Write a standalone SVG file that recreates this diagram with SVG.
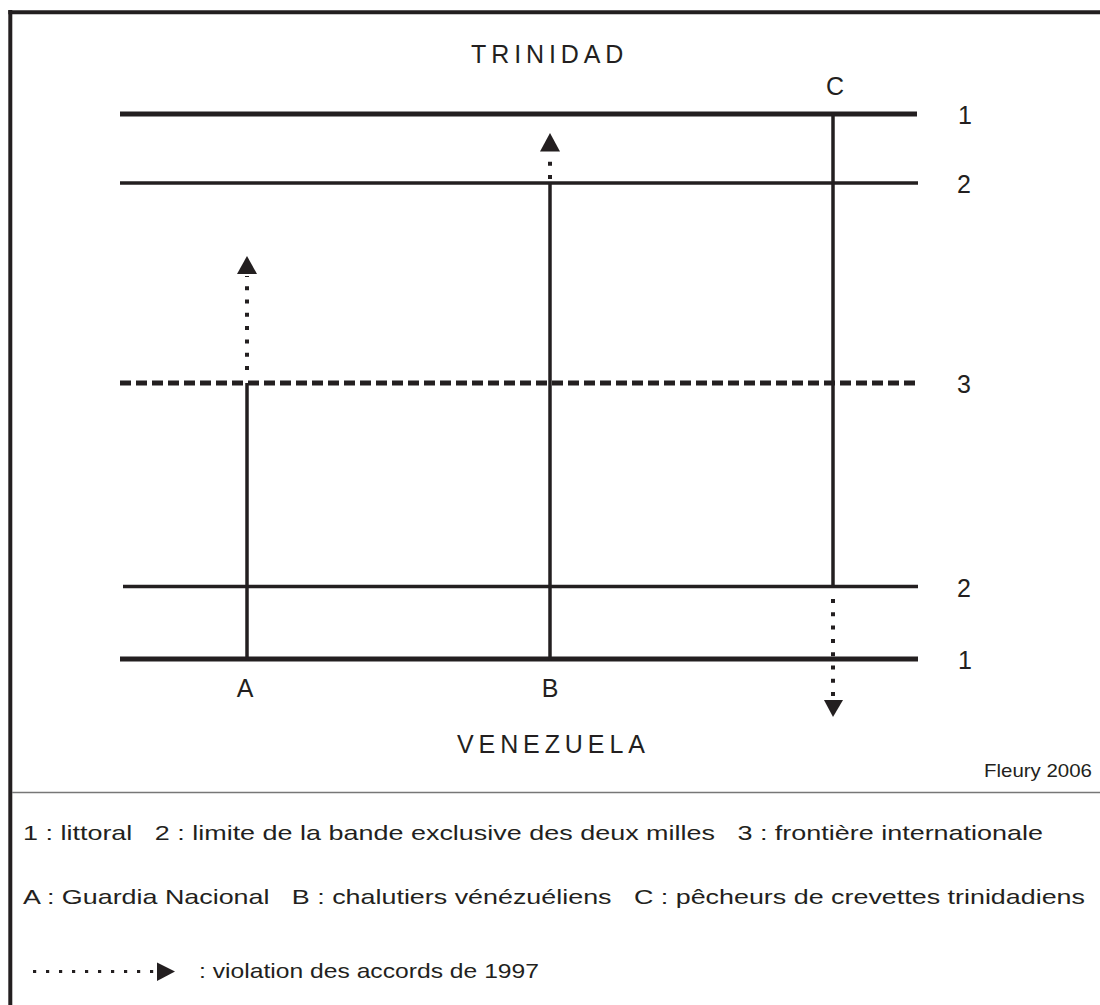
<svg xmlns="http://www.w3.org/2000/svg" width="1100" height="1005" viewBox="0 0 1100 1005">
<style>
text{font-family:"Liberation Sans",Arial,sans-serif;fill:#231f20}
.big{font-size:25px}
.leg{font-size:21px}
.line{stroke:#231f20;fill:none}
.thick{stroke-width:5}
.thin{stroke-width:3.5}
.vert{stroke-width:3.5}
.dot{stroke:#231f20;stroke-width:4;stroke-dasharray:4 9.3;fill:none}
.head{fill:#231f20}
</style>
<rect x="0" y="0" width="1100" height="1005" fill="#ffffff"/>
<g id="frame">
<line class="line" x1="10.3" y1="10" x2="10.3" y2="1005" stroke-width="4"/>
<line class="line" x1="8.3" y1="12.2" x2="1100" y2="12.2" stroke-width="4"/>
<line x1="12" y1="792.5" x2="1100" y2="792.5" stroke="#777777" stroke-width="1.5"/>
</g>
<g id="limits">
<g id="line1-top"><line class="line thick" x1="120" y1="114" x2="917" y2="114"/><text class="big" x="965" y="124" text-anchor="middle">1</text></g>
<g id="line2-top"><line class="line thin" x1="120" y1="183" x2="918" y2="183"/><text class="big" x="964" y="193" text-anchor="middle">2</text></g>
<g id="line3"><line class="line" stroke-width="5" stroke-dasharray="11 5" x1="120" y1="383" x2="918" y2="383"/><text class="big" x="964" y="393" text-anchor="middle">3</text></g>
<g id="line2-bottom"><line class="line thin" x1="123" y1="586.5" x2="918" y2="586.5"/><text class="big" x="964" y="597" text-anchor="middle">2</text></g>
<g id="line1-bottom"><line class="line thick" x1="120" y1="659" x2="918" y2="659"/><text class="big" x="965" y="669" text-anchor="middle">1</text></g>
</g>
<g id="titles">
<text class="big" x="471" y="62.7" letter-spacing="4.9">TRINIDAD</text>
<text class="big" x="457" y="752.7" letter-spacing="4.9">VENEZUELA</text>
<text x="984" y="777" font-size="19" textLength="108" lengthAdjust="spacingAndGlyphs">Fleury 2006</text>
</g>
<g id="connectors">
<g id="A">
<line class="line vert" x1="247" y1="661" x2="247" y2="383"/>
<line class="dot" x1="247" y1="370" x2="247" y2="276"/>
<polygon class="head" points="247,256 237,274 257,274"/>
<text class="big" x="245" y="697" text-anchor="middle">A</text>
</g>
<g id="B">
<line class="line vert" x1="550" y1="661" x2="550" y2="183"/>
<line class="dot" x1="550" y1="179" x2="550" y2="153" stroke-dasharray="3.5 6.2"/>
<polygon class="head" points="550,133 540,151.5 560,151.5"/>
<text class="big" x="550" y="697" text-anchor="middle">B</text>
</g>
<g id="C">
<line class="line vert" x1="833" y1="112" x2="833" y2="586.5"/>
<line class="dot" x1="833" y1="599" x2="833" y2="700"/>
<polygon class="head" points="833,717 824,700 843,700"/>
<text class="big" x="835" y="95" text-anchor="middle">C</text>
</g>
</g>
<g id="legend">
<text class="leg" x="23" y="840" xml:space="preserve" textLength="1020" lengthAdjust="spacingAndGlyphs">1 : littoral   2 : limite de la bande exclusive des deux milles   3 : frontière internationale</text>
<text class="leg" x="23" y="904" xml:space="preserve" textLength="1062" lengthAdjust="spacingAndGlyphs">A : Guardia Nacional   B : chalutiers vénézuéliens   C : pêcheurs de crevettes trinidadiens</text>
<g id="legend-arrow">
<line x1="33" y1="971.5" x2="156" y2="971.5" stroke="#231f20" stroke-width="3.2" stroke-dasharray="3.2 9.8"/>
<polygon class="head" points="175,971.5 157,962.5 157,981"/>
</g>
<text class="leg" x="199" y="978" textLength="340" lengthAdjust="spacingAndGlyphs">: violation des accords de 1997</text>
</g>
</svg>
